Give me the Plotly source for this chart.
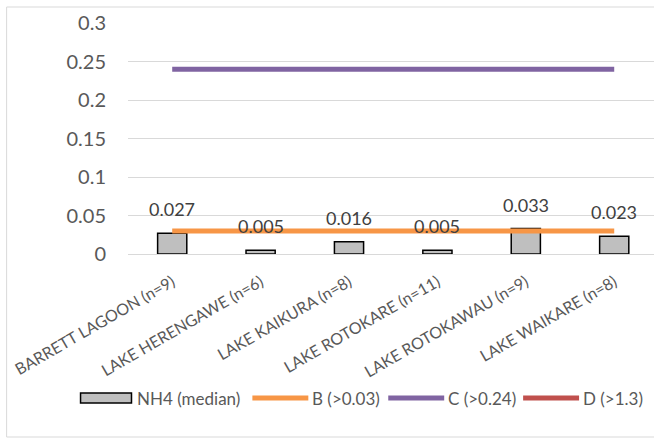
import plotly.graph_objects as go

# Lake sites and NH4 medians (mg/L)
sites = [
    "BARRETT LAGOON (n=9)",
    "LAKE HERENGAWE (n=6)",
    "LAKE KAIKURA (n=8)",
    "LAKE ROTOKARE (n=11)",
    "LAKE ROTOKAWAU (n=9)",
    "LAKE WAIKARE (n=8)",
]
nh4_median = [0.027, 0.005, 0.016, 0.005, 0.033, 0.023]

# Attribute band thresholds
band_b = 0.03
band_c = 0.24
band_d = 1.3

y_ticks = [0, 0.05, 0.1, 0.15, 0.2, 0.25, 0.3]

FONT = "Lato"
GRID = "#D9D9D9"
TXT = "#595959"
BAR_FILL = "#BFBFBF"

# plot area in pixels (used to place items outside it in paper units)
PL, PW, PB, PH = 127.5, 526.5, 254.0, 231.0


def px_x(px):
    return (px - PL) / PW


def px_y(py):
    return (PB - py) / PH


fig = go.Figure()

fig.add_trace(go.Bar(
    x=sites, y=nh4_median, name="NH4 (median)",
    marker=dict(color=BAR_FILL, line=dict(color="#000000", width=1.5)),
    width=0.33, showlegend=False,
))

bands = [
    ("B (>0.03)", band_b, "#F79646"),
    ("C (>0.24)", band_c, "#8064A2"),
    ("D (>1.3)", band_d, "#C0504D"),
]
for label, level, colour in bands:
    fig.add_trace(go.Scatter(
        x=sites, y=[level] * len(sites), name=label, mode="lines",
        line=dict(color=colour, width=5), showlegend=False,
    ))

# Value labels above each bar
for s, v in zip(sites, nh4_median):
    fig.add_annotation(
        x=s, y=v, text=f"{v:.3f}", showarrow=False,
        yanchor="middle", yshift=24,
        font=dict(family=FONT, size=18, color="#404040"),
    )

# Outer chart border
fig.add_shape(
    type="rect", xref="paper", yref="paper",
    x0=px_x(6), x1=px_x(660), y0=px_y(437), y1=px_y(7),
    line=dict(color=GRID, width=1), layer="below",
)

# Legend row along the bottom
LEG_Y = 398
leg_font = dict(family=FONT, size=17, color=TXT)
fig.add_shape(
    type="rect", xref="paper", yref="paper",
    x0=px_x(80), x1=px_x(131), y0=px_y(403), y1=px_y(393),
    fillcolor=BAR_FILL, line=dict(color="#000000", width=1.5),
)
fig.add_annotation(
    xref="paper", yref="paper", x=px_x(135), y=px_y(LEG_Y),
    text="NH4 (median)", showarrow=False, xanchor="left", yanchor="middle",
    font=leg_font,
)
for (label, _, colour), x0 in zip(bands, [252, 388, 523]):
    fig.add_shape(
        type="line", xref="paper", yref="paper",
        x0=px_x(x0), x1=px_x(x0 + 56), y0=px_y(LEG_Y), y1=px_y(LEG_Y),
        line=dict(color=colour, width=5),
    )
    fig.add_annotation(
        xref="paper", yref="paper", x=px_x(x0 + 58), y=px_y(LEG_Y),
        text=label, showarrow=False, xanchor="left", yanchor="middle",
        font=leg_font,
    )

fig.update_layout(
    width=654, height=439,
    margin=dict(l=PL, r=0, t=23, b=185),
    paper_bgcolor="white", plot_bgcolor="white",
    showlegend=False,
    font=dict(family=FONT, color=TXT),
)

fig.update_xaxes(
    range=[-0.5, 5.45], tickangle=-30,
    tickfont=dict(family=FONT, size=16, color=TXT),
    showgrid=False, showline=False, ticks="",
    ticklabelstandoff=15,
)
fig.update_yaxes(
    range=[0, 0.3], tickvals=y_ticks,
    ticktext=[f"{t:g}" for t in y_ticks],
    tickfont=dict(family=FONT, size=20, color=TXT),
    showgrid=True, gridcolor=GRID, gridwidth=1,
    zeroline=True, zerolinecolor=GRID, zerolinewidth=1,
    showline=False, ticks="", ticklabelstandoff=21,
)

fig.write_html("out.html")
